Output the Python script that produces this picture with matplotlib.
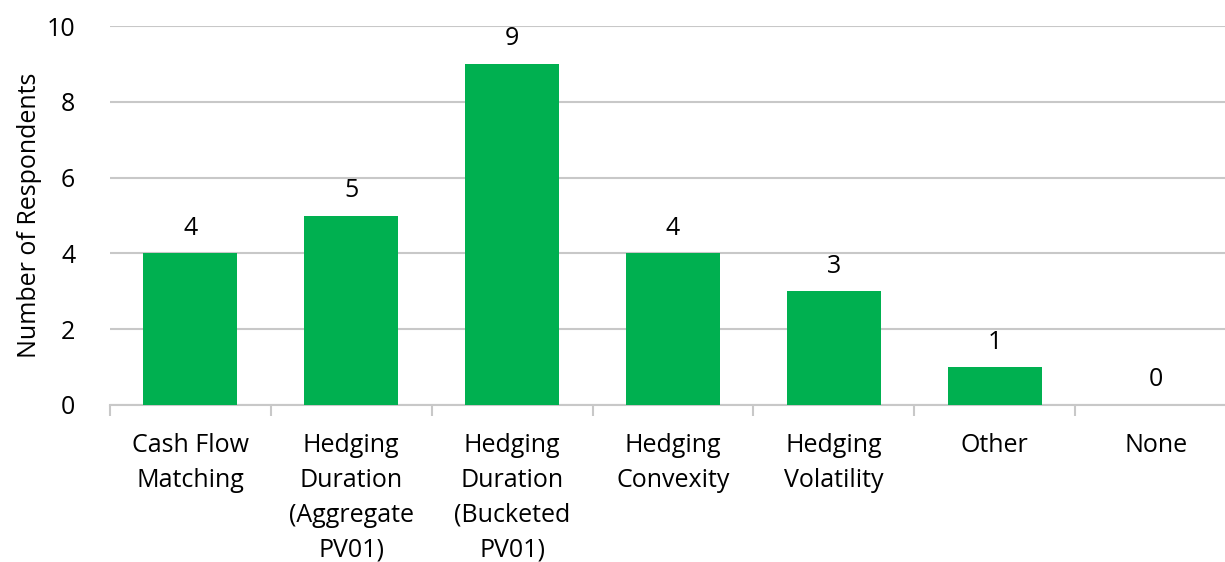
import numpy as np
import matplotlib.pyplot as plt

plt.rcParams['font.family'] = ['Open Sans', 'DejaVu Sans']

categories = ['Cash Flow\nMatching', 'Hedging\nDuration\n(Aggregate\nPV01)',
              'Hedging\nDuration\n(Bucketed\nPV01)', 'Hedging\nConvexity',
              'Hedging\nVolatility', 'Other', 'None']
values = [4, 5, 9, 4, 3, 1, 0]

fig = plt.figure(figsize=(12.25, 5.62), dpi=100)
ax = fig.add_axes([110/1225, 157/562, 1126/1225, 379/562])

x = np.arange(len(categories))
bars = ax.bar(x, values, width=0.584, color='#00B050', zorder=3)
for xi, v in zip(x, values):
    ax.text(xi, v + 0.33, str(v), ha='center', va='bottom', fontsize=18, color='#000000')

ax.set_xlim(-0.5, len(categories) - 0.5)
ax.set_ylim(0, 10)
ax.set_yticks(range(0, 11, 2))
ax.yaxis.grid(True, color='#c8c8c8', linewidth=1.5, zorder=0)
ax.set_axisbelow(True)

ax.set_xticks(x)
ax.set_xticklabels(categories, fontsize=18, linespacing=1.53)
ax.set_xticks(np.arange(-0.5, len(categories)), minor=True)
ax.tick_params(axis='x', which='major', length=0, pad=20)
ax.tick_params(axis='x', which='minor', length=8, width=1.5, color='#c8c8c8')
ax.tick_params(axis='y', length=0, labelsize=18, pad=25)

for s in ['top', 'right', 'left']:
    ax.spines[s].set_visible(False)
ax.spines['bottom'].set_color('#c8c8c8')
ax.spines['bottom'].set_linewidth(1.5)

ax.set_ylabel('Number of Respondents', fontsize=18, labelpad=3)

fig.savefig('out.png', dpi=100)
